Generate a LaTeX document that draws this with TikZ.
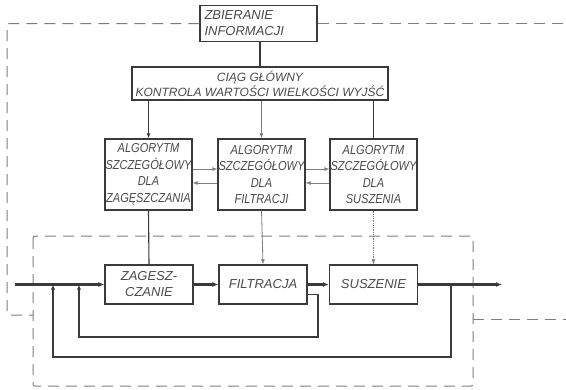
\documentclass[tikz,border=0pt]{standalone}
\usepackage{fontspec}
\setmainfont{Liberation Sans}
\newfontfamily\narrowfont[FakeStretch=0.85]{Liberation Sans}
\usetikzlibrary{arrows.meta}
\definecolor{ink}{HTML}{3A3A3A}
\definecolor{faint}{HTML}{7E7E7E}
\definecolor{txt}{HTML}{4A4A4A}
\begin{document}
\begin{tikzpicture}[x=1pt,y=-1pt,
  box/.style={draw=ink, line width=1.3pt, inner sep=1pt, align=center, text=txt},
  topfont/.style={font=\itshape\fontsize{13}{16}\selectfont},
  mainfont/.style={font=\itshape\fontsize{12}{15}\selectfont},
  algfont/.style={font=\narrowfont\itshape\fontsize{13}{16.5}\selectfont},
  procfont/.style={font=\itshape\fontsize{13}{16}\selectfont},
  dashedline/.style={draw=faint, line width=1pt, dash pattern=on 11pt off 7pt},
  conn/.style={draw=ink, line width=1.1pt},
  lightconn/.style={draw=faint, line width=0.8pt},
  mainflow/.style={draw=ink, line width=2.4pt},
  loopline/.style={draw=ink, line width=1.6pt},
  tipend/.style={-{Latex[length=6pt,width=5pt]}},
  smalltip/.style={-{Latex[length=5pt,width=4pt]}},
]
\useasboundingbox (0,0) rectangle (566,389);
\fill[white] (0,0) rectangle (566,389);

% boxes
\node[box, topfont, minimum width=117pt, minimum height=36pt, text width=108pt, align=left] (top) at (258.5,23.5) {ZBIERANIE\\INFORMACJI};
\node[box, mainfont, minimum width=256pt, minimum height=33pt, inner sep=0pt] (main) at (260,83.5) {CIĄG GŁÓWNY\\KONTROLA WARTOŚCI WIELKOŚCI WYJŚĆ};

\node[box, algfont, minimum width=87pt, minimum height=71pt, inner sep=0pt] (a1) at (148.5,174.5) {ALGORYTM\\SZCZEGÓŁOWY\\DLA\\ZAGĘSZCZANIA};
\node[box, algfont, minimum width=87pt, minimum height=71pt, inner sep=0pt] (a2) at (261.5,174.5) {ALGORYTM\\SZCZEGÓŁOWY\\DLA\\FILTRACJI};
\node[box, algfont, minimum width=87pt, minimum height=71pt, inner sep=0pt] (a3) at (373.5,174.5) {ALGORYTM\\SZCZEGÓŁOWY\\DLA\\SUSZENIA};

\node[box, procfont, minimum width=88pt, minimum height=39pt, inner sep=0pt] (p1) at (149,284.5) {ZAGESZ-\\CZANIE};
\node[box, procfont, minimum width=88pt, minimum height=39pt] (p2) at (263,284.5) {FILTRACJA};
\node[box, procfont, minimum width=88pt, minimum height=39pt] (p3) at (373.5,284.5) {SUSZENIE};

% coordinates
\coordinate (in) at (15,284.5);
\coordinate (out) at (502,284.5);
\coordinate (tapout) at (451,284.5);
\coordinate (joinouter) at (53,284.5);
\coordinate (joininner) at (79,284.5);
\coordinate (innerR) at (318,294.5);
\coordinate (outerbotR) at (451,357);
\coordinate (outerbotL) at (53,357);
\coordinate (innerbotR) at (318,337);
\coordinate (innerbotL) at (79,337);
\coordinate (dTL) at (7,23.5);
\coordinate (dTR) at (566,23.5);
\coordinate (dBL) at (7,315);
\coordinate (dBLr) at (33,315);
\coordinate (rA) at (473,319);
\coordinate (rB) at (566,319);
\coordinate (rect1) at (33,236);
\coordinate (rect2) at (473,386);

% dashed frames
\draw[dashedline, rounded corners=2pt] (rect1) rectangle (rect2);
\draw[dashedline] (top.east) -- (dTR);
\draw[dashedline, rounded corners=2pt] (top.west) -- (dTL) -- (dBL) -- (dBLr);
\draw[dashedline] (rA) -- (rB);

% top connectors
\draw[conn] (top.south -| 260,0) -- (main.north -| 260,0);
\draw[conn, smalltip] (a1.north |- main.south) -- (a1.north);
\draw[lightconn, smalltip] (a2.north |- main.south) -- (a2.north);
\draw[conn] (a3.north |- main.south) -- (a3.north);

% horizontal links between algorithms
\draw[lightconn, smalltip] ([yshift=5.5pt]a1.east) -- ([yshift=5.5pt]a2.west);
\draw[lightconn, smalltip] ([yshift=-8.5pt]a2.west) -- ([yshift=-8.5pt]a1.east);
\draw[lightconn, smalltip] ([yshift=5.5pt]a2.east) -- ([yshift=5.5pt]a3.west);
\draw[lightconn, smalltip] ([yshift=-8.5pt]a3.west) -- ([yshift=-8.5pt]a2.east);

% algorithms to processes
\draw[conn] (a1.south) -- (p1.north);
\draw[lightconn, smalltip] (a2.south) -- (p2.north);
\draw[lightconn, smalltip, densely dotted] (a3.south) -- (p3.north);

% main flow
\draw[mainflow, tipend] (in) -- (p1.west);
\draw[mainflow, tipend] (p1.east) -- (p2.west);
\draw[mainflow, tipend] (p2.east) -- (p3.west);
\draw[mainflow, tipend] (p3.east) -- (out);

% feedback loops
\draw[loopline, smalltip] (innerR -| p2.east) -- (innerR) -- (innerbotR) -- (innerbotL) -- (joininner);
\draw[loopline, smalltip] (tapout) -- (outerbotR) -- (outerbotL) -- (joinouter);
\end{tikzpicture}
\end{document}
